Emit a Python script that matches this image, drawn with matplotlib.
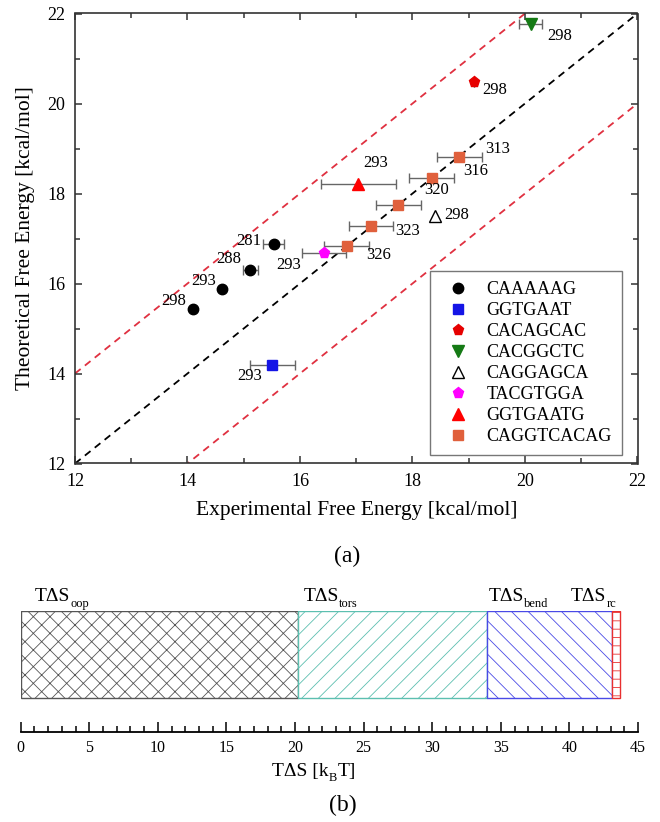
import numpy as np
import matplotlib
matplotlib.use("Agg")
import matplotlib.pyplot as plt
from matplotlib.ticker import MultipleLocator
from matplotlib.transforms import IdentityTransform

plt.rcParams['font.family'] = ['Liberation Serif', 'DejaVu Serif']
plt.rcParams['hatch.linewidth'] = 0.6

# (a) experimental vs theoretical free energy, one entry per sequence
seq_names = ['CAAAAAG', 'GGTGAAT', 'CACAGCAC', 'CACGGCTC', 'CAGGAGCA',
             'TACGTGGA', 'GGTGAATG', 'CAGGTCACAG']
seq_markers = ['o', 's', 'p', 'v', '^', 'p', '^', 's']
seq_colors = ['black', '#1414e6', '#e60000', '#157a15', 'white', '#ff00ff',
              '#ff0000', '#e0603c']
seq_sizes = [7.5, 6.5, 8, 8.5, 8, 8, 9, 6.5]

x_exp = [[15.53, 15.12, 14.61, 14.09], [15.51], [19.09], [20.10], [18.40],
         [16.42], [17.04], [18.83, 18.34, 17.75, 17.27, 16.83]]
y_theo = [[16.87, 16.31, 15.87, 15.44], [14.20], [20.48], [21.76], [17.50],
          [16.67], [18.21], [18.81, 18.35, 17.74, 17.28, 16.83]]
x_err = [[0.19, 0.14, 0.0, 0.0], [0.40], [0.0], [0.21], [0.0],
         [0.39], [0.66], [0.40, 0.40, 0.40, 0.39, 0.40]]
temps = [['281', '288', '293', '298'], ['293'], ['298'], ['298'], ['298'],
         ['293'], ['293'], ['313', '316', '320', '323', '326']]
temp_x = [[15.09, 14.73, 14.28, 13.75], [15.11], [19.47], [20.62], [18.79],
          [15.80], [17.35], [19.51, 19.13, 18.43, 17.91, 17.40]]
temp_y = [[16.94, 16.54, 16.05, 15.61], [13.94], [20.30], [21.50], [17.52],
          [16.41], [18.68], [19.00, 18.50, 18.07, 17.17, 16.64]]

# (b) entropy contributions
parts = ['oop', 'tors', 'bend', 'rc']
part_vals = [20.2, 13.8, 9.1, 0.6]
part_colors = ['#555555', '#5cbfb0', '#4a4ae6', '#e83030']
part_hatch = ['xx', '//', '\\\\', '++']
part_label_x = [1.0, 20.6, 34.1, 40.1]

fig = plt.figure(figsize=(6.6, 8.22), dpi=100)
renderer = fig.canvas.get_renderer()


def text_with_sub(x_px, y_px, main, sub, fs, sfs, drop, after=''):
    # draw main text at pixel baseline, then a lowered subscript after it
    t = fig.text(x_px, y_px, main, fontsize=fs, ha='left', va='baseline',
                 transform=IdentityTransform())
    bb = t.get_window_extent(renderer)
    s = fig.text(bb.x1 + 0.5, y_px - drop, sub, fontsize=sfs, ha='left',
                 va='baseline', transform=IdentityTransform())
    if after:
        sb = s.get_window_extent(renderer)
        fig.text(sb.x1 + 0.5, y_px, after, fontsize=fs, ha='left',
                 va='baseline', transform=IdentityTransform())


ax = fig.add_axes([75 / 660, 1 - 463.5 / 822, 562.5 / 660, 450 / 822])
ax.set_xlim(12, 22)
ax.set_ylim(12, 22)

line_x = np.array([12, 22])
ax.plot(line_x, line_x, '--', color='black', lw=1.3, dashes=(4, 3), zorder=1)
ax.plot(line_x, line_x + 2, '--', color='#e03040', lw=1.3, dashes=(4, 3), zorder=1)
ax.plot(line_x, line_x - 2, '--', color='#e03040', lw=1.3, dashes=(4, 3), zorder=1)

handles = []
for i, name in enumerate(seq_names):
    xe = np.array(x_err[i])
    ax.errorbar(x_exp[i], y_theo[i], xerr=xe, fmt='none', ecolor='#666666',
                elinewidth=1, capsize=3.5, capthick=1, zorder=2)
    edge = 'black' if seq_colors[i] == 'white' else seq_colors[i]
    h, = ax.plot(x_exp[i], y_theo[i], linestyle='none', marker=seq_markers[i],
                 ms=seq_sizes[i], mfc=seq_colors[i], mec=edge, mew=1.0,
                 label=name, zorder=3)
    handles.append(h)
    for t, tx, ty in zip(temps[i], temp_x[i], temp_y[i]):
        ax.text(tx, ty, t, fontsize=12, ha='center', va='center', zorder=4)

ax.xaxis.set_major_locator(MultipleLocator(2))
ax.xaxis.set_minor_locator(MultipleLocator(1))
ax.yaxis.set_major_locator(MultipleLocator(2))
ax.yaxis.set_minor_locator(MultipleLocator(1))
ax.tick_params(which='both', direction='in', top=True, right=True,
               labelsize=13, pad=7, color='#333333', width=1.1)
ax.tick_params(which='major', length=5)
ax.tick_params(which='minor', length=3.5)
for s in ax.spines.values():
    s.set_color('#333333')
    s.set_linewidth(1.2)

ax.set_xlabel('Experimental Free Energy [kcal/mol]', fontsize=15.5, labelpad=8)
ax.set_ylabel('Theoretical Free Energy [kcal/mol]', fontsize=15.5, labelpad=9)

leg = ax.legend(handles=handles, loc='lower right', bbox_to_anchor=(0.972, 0.019),
                fontsize=13, frameon=True, fancybox=False, edgecolor='#555555',
                labelspacing=0.22, handletextpad=0.6, borderpad=0.55,
                handlelength=2.0, borderaxespad=0)
leg.get_frame().set_linewidth(1.0)

fig.text(347 / 660, 1 - 556 / 822, '(a)', fontsize=17, ha='center', va='center')

# (b) stacked bar
bx = fig.add_axes([20.7 / 660, 1 - 732 / 822, (638 - 20.7) / 660, 121 / 822])
bx.set_xlim(0, 45)
bx.set_ylim(0, 1)
left = 0.0
for name, v, c, h, lx in zip(parts, part_vals, part_colors, part_hatch, part_label_x):
    bx.barh(0.6405, v, height=0.719, left=left, color='white', edgecolor=c,
            hatch=h, linewidth=1.0)
    px = bx.transData.transform((lx, 0))[0]
    text_with_sub(px, 822 - 601, 'T\u0394S', name, 14, 9, 6)
    left += v

for side in ['left', 'right', 'top']:
    bx.spines[side].set_visible(False)
bx.spines['bottom'].set_linewidth(1.3)
bx.set_yticks([])
bx.xaxis.set_major_locator(MultipleLocator(5))
bx.xaxis.set_minor_locator(MultipleLocator(1))
bx.tick_params(which='both', direction='in', labelsize=11.5, pad=6, width=1.1)
bx.tick_params(which='major', length=7)
bx.tick_params(which='minor', length=4)

text_with_sub(272, 822 - 776, 'T\u0394S [k', 'B', 14, 9, 5, after='T]')
fig.text(343 / 660, 1 - 805 / 822, '(b)', fontsize=17, ha='center', va='center')

fig.savefig('out.png', dpi=100)
